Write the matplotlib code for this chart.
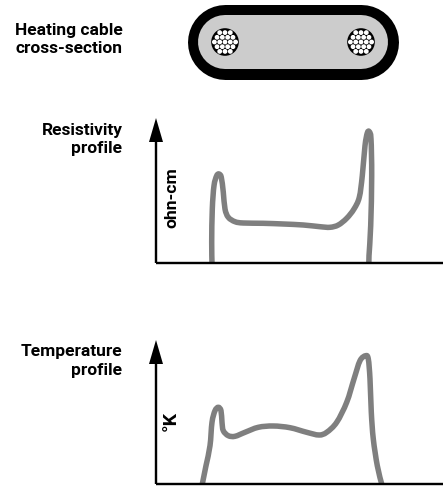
import numpy as np
import matplotlib
matplotlib.use("Agg")
import matplotlib.pyplot as plt
from matplotlib.patches import Circle, PathPatch
from matplotlib.path import Path

W, H = 443, 489

# curves: x from the y axis, y above the baseline (px)
res_x = [56, 55.7, 56.3, 58, 60.7, 63, 65.3, 67.3, 69, 72.3, 79, 87.3, 107.3, 127.3, 147.3,
         164, 174, 182.3, 190.7, 198, 203.3, 206.3, 209, 211.3, 213.3, 215, 215.7, 214.7, 213, 213]
res_y = [0, 20.7, 54, 77.3, 87.3, 89, 85.7, 70.7, 54, 45.7, 41.3, 40, 39.7, 39, 38,
         36.3, 35.7, 38, 44.7, 54, 65.7, 87.3, 117.3, 130, 131.3, 124, 87.3, 37.3, 7.3, 0]
temp_x = [46.3, 50, 54, 56, 59, 62.3, 65, 66, 67.3, 72.3, 79, 89, 102.3, 117.3, 134,
          150.7, 163, 170.7, 180.7, 190.7, 198, 204, 209.7, 212.3, 214, 215.3, 217.3, 221.3, 225.7]
temp_y = [0, 18.3, 38.3, 61.7, 73.3, 76.7, 73.3, 61.7, 53.3, 48.3, 47.7, 51.7, 56.7, 58, 56.3,
          51.7, 49, 51.7, 61.7, 81.7, 105, 123.3, 128.3, 125, 105, 71.7, 45, 18.3, 0]

# cable, in figure pixels
cable_ends = [225.5, 361.5]
cable_y = 42.5
cable_outer = 75
cable_inner = 54
wire_centres = [(225, 43), (361, 43)]
strand_rows = [3, 4, 5, 4, 3]

AXIS_W = 287
PX = 72 / 100  # points per pixel


def smooth_path(xs, ys):
    # catmull-rom segments through the read points
    p = np.column_stack([xs, ys])
    verts = [p[0]]
    codes = [Path.MOVETO]
    for i in range(len(p) - 1):
        a = p[max(i - 1, 0)]
        b = p[i]
        c = p[i + 1]
        d = p[min(i + 2, len(p) - 1)]
        verts += [b + (c - a) / 6, c - (d - b) / 6, c]
        codes += [Path.CURVE4] * 3
    return Path(verts, codes)


def px_axes(left, top, width, height):
    ax = fig.add_axes([left / W, 1 - (top + height) / H, width / W, height / H])
    ax.axis("off")
    return ax


def profile(baseline, xs, ys, ymax):
    ax = px_axes(156, baseline - ymax, AXIS_W, ymax)
    ax.set_xlim(0, AXIS_W)
    ax.set_ylim(0, ymax)
    ax.add_patch(PathPatch(smooth_path(xs, ys), fc="none", ec="#7f7f7f", lw=5.5 * PX,
                           capstyle="butt", joinstyle="round", clip_on=False))
    ax.plot([0, AXIS_W], [0, 0], color="black", lw=2.4 * PX, clip_on=False, solid_capstyle="butt")
    ax.plot([0, 0], [0, ymax - 20], color="black", lw=2.4 * PX, clip_on=False, solid_capstyle="butt")
    ax.fill([-7, 7, 0], [ymax - 24, ymax - 24, ymax], color="black", lw=0, clip_on=False)
    return ax


plt.rcParams["font.family"] = ["Roboto", "Liberation Sans", "DejaVu Sans"]
fig = plt.figure(figsize=(W / 100, H / 100), dpi=100)

page = px_axes(0, 0, W, H)
page.set_xlim(0, W)
page.set_ylim(H, 0)

# stadium shape: thick lines with round caps
page.plot(cable_ends, [cable_y, cable_y], color="black", lw=cable_outer * PX, solid_capstyle="round")
page.plot(cable_ends, [cable_y, cable_y], color="#cccccc", lw=cable_inner * PX, solid_capstyle="round")
for cx, cy in wire_centres:
    page.add_patch(Circle((cx, cy), 13.8, fc="black", ec="none", zorder=3))
    for r, n in enumerate(strand_rows):
        for j in range(n):
            sx = cx + (j - (n - 1) / 2) * 5.3
            sy = cy + (r - 2) * 4.7
            page.add_patch(Circle((sx, sy), 2.4, fc="white", ec="none", zorder=4))

txt = dict(fontweight="bold", fontsize=12.5, ha="right", va="center", color="black")
page.text(122.5, 39.5, "Heating cable\ncross-section", linespacing=1.28, **txt)
page.text(122.5, 139.5, "Resistivity\nprofile", linespacing=1.28, **txt)
page.text(122.5, 361, "Temperature\nprofile", linespacing=1.28, **txt)

res_ax = profile(264, res_x, res_y, 145)
temp_ax = profile(485, temp_x, temp_y, 144)
page.text(172, 198, "ohn-cm", rotation=90, fontweight="bold", fontsize=12.6, ha="center", va="center")
page.text(171, 421, "°K", rotation=90, fontweight="bold", fontsize=14, ha="center", va="center")

fig.savefig("out.png", dpi=100)
